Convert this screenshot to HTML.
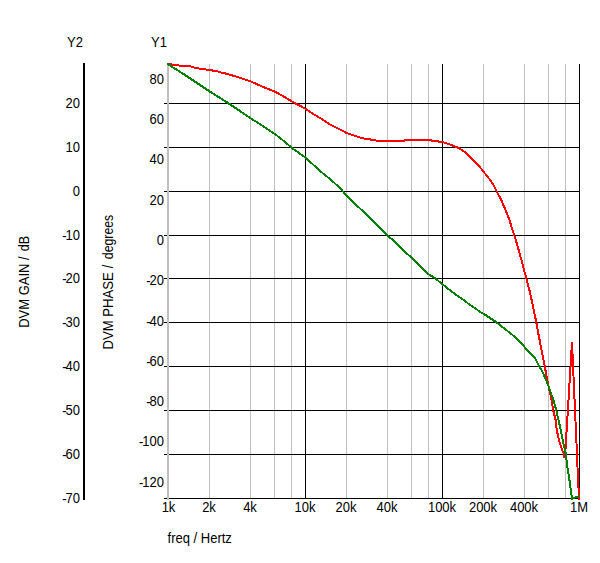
<!DOCTYPE html>
<html lang="en">
<head>
<meta charset="utf-8">
<title>DVM Bode plot</title>
<style>
html,body{margin:0;padding:0;background:#fff;}
body{width:600px;height:563px;overflow:hidden;}
svg{display:block;}
text{font-family:"Liberation Sans",sans-serif;font-size:14px;fill:#000;}
.r{text-anchor:end;}
.c{text-anchor:middle;}
</style>
</head>
<body>
<svg width="600" height="563" viewBox="0 0 600 563">
<rect width="600" height="563" fill="#fff"/>
<g shape-rendering="crispEdges">
<rect x="83" y="63" width="2" height="437" fill="#000"/>
<rect x="209" y="64" width="1" height="434" fill="#c0c0c0"/>
<rect x="250" y="64" width="1" height="434" fill="#c0c0c0"/>
<rect x="274" y="64" width="1" height="434" fill="#c0c0c0"/>
<rect x="291" y="64" width="1" height="434" fill="#c0c0c0"/>
<rect x="346" y="64" width="1" height="434" fill="#c0c0c0"/>
<rect x="387" y="64" width="1" height="434" fill="#c0c0c0"/>
<rect x="411" y="64" width="1" height="434" fill="#c0c0c0"/>
<rect x="428" y="64" width="1" height="434" fill="#c0c0c0"/>
<rect x="483" y="64" width="1" height="434" fill="#c0c0c0"/>
<rect x="524" y="64" width="1" height="434" fill="#c0c0c0"/>
<rect x="548" y="64" width="1" height="434" fill="#c0c0c0"/>
<rect x="565" y="64" width="1" height="434" fill="#c0c0c0"/>
<rect x="305" y="64" width="1" height="435" fill="#000"/>
<rect x="442" y="64" width="1" height="435" fill="#000"/>
<rect x="579" y="64" width="1" height="435" fill="#000"/>
<rect x="164" y="103" width="416" height="1" fill="#000"/>
<rect x="164" y="147" width="416" height="1" fill="#000"/>
<rect x="164" y="191" width="416" height="1" fill="#000"/>
<rect x="164" y="235" width="416" height="1" fill="#000"/>
<rect x="164" y="278" width="416" height="1" fill="#000"/>
<rect x="164" y="322" width="416" height="1" fill="#000"/>
<rect x="164" y="366" width="416" height="1" fill="#000"/>
<rect x="164" y="410" width="416" height="1" fill="#000"/>
<rect x="164" y="454" width="416" height="1" fill="#000"/>
<rect x="164" y="498" width="416" height="1" fill="#000"/>
<rect x="167" y="64" width="2" height="436" fill="#c0c0c0"/>
<polyline points="572,498 575,497.5 578,497" fill="none" stroke="#008000" stroke-width="2" stroke-linejoin="round"/>
<polyline points="167.5,64 172,64.5 178.5,65.5 191,66.5 194,67.5 199,68.5 206,69.5 212.5,70.5 218,71.5 221,72.5 225,73.4 230,74.75 240,77.8 250.4,81.25 260,85.6 274.4,91.5 280,94.4 291.6,101.25 295,103.1 305.4,108.75 310,112 315,115 320,118 330,124.4 340,129.5 343,131 346,132.8 349.5,134 352.5,135 355.5,136 358,137 361.5,138 367,139 374,140 378,141 404,141 405,140 431,140 432,141 437.5,141 438.5,141.5 439.5,142 443,142.1 444,142.5 447,143.5 450,144.6 455,146.4 460,148.75 466,153 470,157 475,162 479,166 483,171 487,176 491,181 494,186 497,192 500,197.5 501.25,200 503,204.4 505.6,210 509.4,220 512.5,230 514.4,235.6 517.25,245 520,255 522.9,265 524,270 526.25,278 529.4,290 531.6,300 533.75,310 536.25,322 538.6,335 539.6,340 541.5,350 544.7,366 547.25,380 549.4,390 550.6,395 551.5,400 553.1,410 555.6,420 556.8,430 558.2,437 561,447 564,454.5 564.5,457.5 565.5,449 566,441 567,424.5 568,408 569,392 570,375 571,359 572,341.6 572.5,354 573,365 574,387.5 575,410 576,432 577,454.5 578,480 579,495 579,499.8" fill="none" stroke="#ff0000" stroke-width="2" stroke-linejoin="bevel"/>
<polyline points="167.5,64 185,75 209,91 228,103 240,111 250,118 260,124 270,131 275,134 285,142 292,148 306,158 320,171 330,179 340,188 346,195 355,204 365,213 375,223 387,235 395,242 405,252 412,258 420,266 428,274 435,278 442,284 455,294 465,301 470,305 475,308 480,312 484,314 490,318 496,322 505,329 510,333 515,337 520,342 522,344 527,350 532,355 535,358 537,362 539,366 541,369 543,373 546,380 549,387.5 551,393.75 552.7,397.5 556.2,410 558.5,420 560.7,430 562,437 564.2,447 566,454.5 567,465 568,471 569,477.5 569.5,480.5 570.5,488 571.5,495 572,499.8" fill="none" stroke="#008000" stroke-width="2" stroke-linejoin="round"/>
<rect x="578" y="495" width="2" height="2" fill="#008000"/>
<rect x="167" y="63" width="2" height="2" fill="#008000"/>
</g>
<text transform="translate(67,47) scale(0.9286,1)">Y2</text>
<text transform="translate(151,47) scale(0.9286,1)">Y1</text>
<text class="r" transform="translate(80,108) scale(0.9286,1)">20</text>
<text class="r" transform="translate(80,152) scale(0.9286,1)">10</text>
<text class="r" transform="translate(80,196) scale(0.9286,1)">0</text>
<text class="r" transform="translate(80,240) scale(0.9286,1)"><tspan x="-14.50" dy="0.6">-</tspan><tspan x="0" dy="-0.6">10</tspan></text>
<text class="r" transform="translate(80,283) scale(0.9286,1)"><tspan x="-14.50" dy="0.6">-</tspan><tspan x="0" dy="-0.6">20</tspan></text>
<text class="r" transform="translate(80,327) scale(0.9286,1)"><tspan x="-14.50" dy="0.6">-</tspan><tspan x="0" dy="-0.6">30</tspan></text>
<text class="r" transform="translate(80,371) scale(0.9286,1)"><tspan x="-14.50" dy="0.6">-</tspan><tspan x="0" dy="-0.6">40</tspan></text>
<text class="r" transform="translate(80,415) scale(0.9286,1)"><tspan x="-14.50" dy="0.6">-</tspan><tspan x="0" dy="-0.6">50</tspan></text>
<text class="r" transform="translate(80,459) scale(0.9286,1)"><tspan x="-14.50" dy="0.6">-</tspan><tspan x="0" dy="-0.6">60</tspan></text>
<text class="r" transform="translate(80,503) scale(0.9286,1)"><tspan x="-14.50" dy="0.6">-</tspan><tspan x="0" dy="-0.6">70</tspan></text>
<text class="r" transform="translate(164,84) scale(0.9286,1)">80</text>
<text class="r" transform="translate(164,124) scale(0.9286,1)">60</text>
<text class="r" transform="translate(164,164) scale(0.9286,1)">40</text>
<text class="r" transform="translate(164,205) scale(0.9286,1)">20</text>
<text class="r" transform="translate(164,245) scale(0.9286,1)">0</text>
<text class="r" transform="translate(164,285) scale(0.9286,1)"><tspan x="-14.50" dy="0.6">-</tspan><tspan x="0" dy="-0.6">20</tspan></text>
<text class="r" transform="translate(164,326) scale(0.9286,1)"><tspan x="-14.50" dy="0.6">-</tspan><tspan x="0" dy="-0.6">40</tspan></text>
<text class="r" transform="translate(164,366) scale(0.9286,1)"><tspan x="-14.50" dy="0.6">-</tspan><tspan x="0" dy="-0.6">60</tspan></text>
<text class="r" transform="translate(164,406) scale(0.9286,1)"><tspan x="-14.50" dy="0.6">-</tspan><tspan x="0" dy="-0.6">80</tspan></text>
<text class="r" transform="translate(164,446) scale(0.9286,1)"><tspan x="-22.28" dy="0.6">-</tspan><tspan x="0" dy="-0.6">100</tspan></text>
<text class="r" transform="translate(164,487) scale(0.9286,1)"><tspan x="-22.28" dy="0.6">-</tspan><tspan x="0" dy="-0.6">120</tspan></text>
<text class="c" transform="translate(168.5,512) scale(0.9286,1)">1k</text>
<text class="c" transform="translate(209,512) scale(0.9286,1)">2k</text>
<text class="c" transform="translate(250,512) scale(0.9286,1)">4k</text>
<text class="c" transform="translate(305,512) scale(0.9286,1)">10k</text>
<text class="c" transform="translate(346,512) scale(0.9286,1)">20k</text>
<text class="c" transform="translate(387,512) scale(0.9286,1)">40k</text>
<text class="c" transform="translate(442,512) scale(0.9286,1)">100k</text>
<text class="c" transform="translate(483,512) scale(0.9286,1)">200k</text>
<text class="c" transform="translate(524,512) scale(0.9286,1)">400k</text>
<text class="c" transform="translate(579,512) scale(0.9286,1)">1M</text>
<text transform="translate(167.6,543) scale(0.9286,1)">freq / Hertz</text>
<text transform="translate(29.2,0) rotate(-90) scale(0.9286,1)"><tspan x="-353.02">DVM GAIN</tspan> <tspan x="-280.00">/</tspan> <tspan x="-270.63" textLength="16.61" lengthAdjust="spacingAndGlyphs">dB</tspan></text>
<text transform="translate(113.4,0) rotate(-90) scale(0.9286,1)"><tspan x="-376.38" textLength="83.12" lengthAdjust="spacingAndGlyphs">DVM PHASE</tspan> <tspan x="-288.94">/</tspan> <tspan x="-279.14" textLength="47.80" lengthAdjust="spacingAndGlyphs">degrees</tspan></text>
</svg>
</body>
</html>
